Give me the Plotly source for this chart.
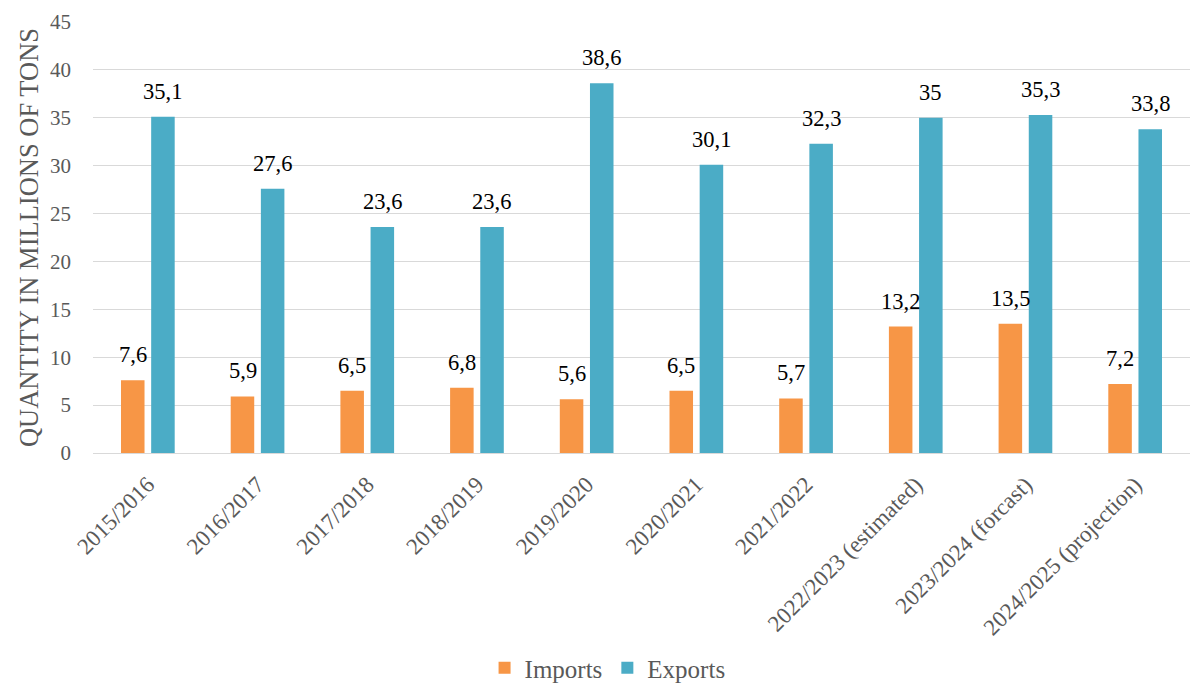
import plotly.graph_objects as go

categories = ["2015/2016", "2016/2017", "2017/2018", "2018/2019", "2019/2020",
              "2020/2021", "2021/2022", "2022/2023 (estimated)", "2023/2024 (forcast)",
              "2024/2025 (projection)"]
imports = [7.6, 5.9, 6.5, 6.8, 5.6, 6.5, 5.7, 13.2, 13.5, 7.2]
exports = [35.1, 27.6, 23.6, 23.6, 38.6, 30.1, 32.3, 35, 35.3, 33.8]

def fmt(v):
    return (f"{v:g}").replace(".", ",")

font_family = "Liberation Serif"

fig = go.Figure()
fig.add_trace(go.Bar(name="Imports", x=categories, y=imports,
                     marker=dict(color="#F79646", line=dict(width=0))))
fig.add_trace(go.Bar(name="Exports", x=categories, y=exports,
                     marker=dict(color="#4BACC6", line=dict(width=0))))

# value labels above each bar (half a bar slot left/right of the category centre)
for series, shift in ((imports, -15), (exports, 15)):
    for cat, v in zip(categories, series):
        fig.add_annotation(x=cat, y=v, xref="x", yref="y", text=fmt(v),
                           showarrow=False, xanchor="center", yanchor="bottom",
                           xshift=shift, yshift=11,
                           font=dict(color="#000000", size=22.5, family=font_family))

fig.update_layout(
    width=1196, height=691,
    margin=dict(l=93, r=6, t=22, b=238, autoexpand=False),
    paper_bgcolor="white", plot_bgcolor="white",
    barmode="group", bargap=0.45, bargroupgap=0.22,
    font=dict(family=font_family, color="#595959", size=20),
    showlegend=True,
    legend=dict(orientation="h", xref="container", yref="container",
                x=0.508, xanchor="center", y=0.0, yanchor="bottom",
                font=dict(size=25, color="#595959"), traceorder="normal",
                itemwidth=30),
)
fig.update_yaxes(range=[0, 45], dtick=5, showgrid=True, gridcolor="#D9D9D9", gridwidth=1,
                 zeroline=True, zerolinecolor="#D9D9D9", zerolinewidth=1,
                 tickfont=dict(size=21, color="#595959"),
                 ticks="", ticksuffix="\u2007\u2007", automargin=False,
                 title=dict(text="QUANTITY IN MILLIONS OF TONS",
                            font=dict(size=26.5, color="#595959"), standoff=3))
fig.update_xaxes(tickangle=-45, tickfont=dict(size=23, color="#595959"), showline=True,
                 linecolor="#D9D9D9", ticks="outside", tickcolor="rgba(0,0,0,0)", ticklen=8,
                 automargin=False)

fig.write_html("out.html")
